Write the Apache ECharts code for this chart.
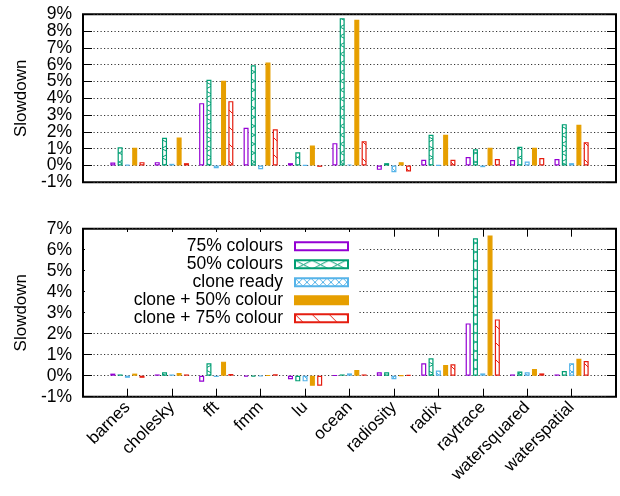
<!DOCTYPE html>
<html><head><meta charset="utf-8">
<script src="https://cdn.jsdelivr.net/npm/echarts@6/dist/echarts.min.js"></script>
<style>html,body{margin:0;padding:0;background:#fff}#c{width:620px;height:496px}</style>
</head><body><div id="c"></div>
<script>
const categories = ['barnes','cholesky','fft','fmm','lu','ocean','radiosity','radix','raytrace','watersquared','waterspatial'];
const seriesNames = ['75% colours','50% colours','clone ready','clone + 50% colour','clone + 75% colour'];

// top panel
const top75      = [0.18, 0.20, 3.71, 2.24, 0.14, 1.33, -0.26, 0.34, 0.50, 0.32, 0.38];
const top50      = [1.09, 1.65, 5.10, 5.97, 0.79, 8.77, 0.14, 1.83, 0.97, 1.11, 2.46];
const topClone   = [0.04, 0.10, -0.16, -0.22, 0.02, 0.06, -0.40, 0.02, -0.10, 0.24, 0.14];
const topClone50 = [1.05, 1.67, 5.04, 6.13, 1.19, 8.67, 0.20, 1.83, 1.05, 1.05, 2.42];
const topClone75 = [0.20, 0.14, 3.83, 2.16, -0.08, 1.45, -0.36, 0.34, 0.38, 0.44, 1.39];

// bottom panel
const bot75      = [0.10, 0.06, -0.29, -0.04, -0.17, 0.02, 0.16, 0.59, 2.49, 0.06, 0.06];
const bot50      = [0.06, 0.16, 0.59, -0.04, -0.27, 0.06, 0.16, 0.83, 6.54, 0.20, 0.22];
const botClone   = [-0.10, 0.06, -0.06, -0.03, -0.27, 0.11, -0.17, 0.25, 0.11, 0.16, 0.59];
const botClone50 = [0.10, 0.13, 0.67, 0.02, -0.48, 0.27, 0.01, 0.51, 6.68, 0.32, 0.81];
const botClone75 = [-0.10, 0.06, 0.08, 0.07, -0.48, 0.06, 0.03, 0.54, 2.68, 0.11, 0.70];

const topRange = [-1, 9];
const botRange = [-1, 7];

const colors = ['#9400d3', '#009e73', '#56b4e9', '#e69f00', '#e51e10'];
const FONT = 'Liberation Sans';
const FS = 17;

function makePattern(w, h, color, draw) {
  const c = document.createElement('canvas');
  c.width = w; c.height = h;
  const ctx = c.getContext('2d');
  ctx.fillStyle = '#fff'; ctx.fillRect(0, 0, w, h);
  ctx.strokeStyle = color; ctx.lineWidth = 1;
  ctx.beginPath(); draw(ctx, w, h); ctx.stroke();
  return { image: c, repeat: 'repeat' };
}
const fills = [
  '#fff',
  makePattern(17, 9, colors[1], (ctx, w, h) => { ctx.moveTo(0, 0); ctx.lineTo(w, h); ctx.moveTo(w, 0); ctx.lineTo(0, h); }),
  makePattern(8, 8, colors[2], (ctx, w, h) => { ctx.moveTo(0, 0); ctx.lineTo(w, h); ctx.moveTo(w, 0); ctx.lineTo(0, h); }),
  colors[3],
  makePattern(17, 17, colors[4], (ctx, w, h) => { ctx.moveTo(-2, -2); ctx.lineTo(w + 2, h + 2); ctx.moveTo(-2, h - 2); ctx.lineTo(2, h + 2); ctx.moveTo(w - 2, -2); ctx.lineTo(w + 2, 2); })
];

const xCats = [''].concat(categories).concat(['']);
function pad(arr) { return [null].concat(arr).concat([null]); }

const topData = [top75, top50, topClone, topClone50, topClone75];
const botData = [bot75, bot50, botClone, botClone50, botClone75];

const series = [];
[topData, botData].forEach((set, p) => {
  set.forEach((vals, i) => {
    series.push({
      type: 'bar', name: seriesNames[i],
      xAxisIndex: p === 0 ? 0 : 1, yAxisIndex: p === 0 ? 0 : 3,
      data: pad(vals),
      barWidth: 5, barGap: '46%',
      itemStyle: { color: fills[i], borderColor: colors[i], borderWidth: 1.2 },
      emphasis: { disabled: true }
    });
  });
});

// kind: 'main' (ticks, grid, labels filtered by parity), 'labels' (labels only), 'right' (ticks only)
function yAxis(grid, range, kind, parity) {
  const fmt = v => (parity === undefined || Math.abs(v % 2) === parity) ? v + '%' : '';
  return {
    type: 'value', gridIndex: grid, min: range[0], max: range[1], interval: 1,
    position: kind === 'right' ? 'right' : 'left',
    axisLine: { show: false, onZero: false },
    axisTick: { show: kind !== 'labels', inside: true, length: 9, lineStyle: { color: '#000', width: 1 } },
    axisLabel: { show: kind !== 'right', formatter: fmt, margin: 11, color: '#000', fontFamily: FONT, fontSize: 17.5,
                 showMinLabel: true, showMaxLabel: true },
    splitLine: { show: kind === 'main', lineStyle: { color: '#333', width: 1, type: [1.2, 2.3] } },
    name: kind === 'main' ? 'Slowdown' : '', nameLocation: 'middle', nameGap: 50,
    nameTextStyle: { color: '#000', fontFamily: FONT, fontSize: FS }
  };
}

const option = {
  animation: false,
  backgroundColor: '#fff',
  grid: [
    { left: 83, top: 14.3, width: 533, height: 168, show: true, borderColor: '#000', borderWidth: 2, backgroundColor: 'transparent' },
    { left: 83, top: 228.7, width: 533, height: 168, show: true, borderColor: '#000', borderWidth: 2, backgroundColor: 'transparent' }
  ],
  xAxis: [
    { type: 'category', gridIndex: 0, data: xCats, boundaryGap: false,
      axisLine: { show: false, onZero: false }, axisTick: { show: false }, axisLabel: { show: false }, splitLine: { show: false } },
    { type: 'category', gridIndex: 1, data: xCats, boundaryGap: false, position: 'bottom',
      axisLine: { show: false, onZero: false },
      axisTick: { show: true, inside: true, length: 8, interval: 0, lineStyle: { color: '#000', width: 1 } },
      axisLabel: { show: true, interval: 0, rotate: 45, color: '#000', fontFamily: FONT, fontSize: FS, margin: 8 },
      splitLine: { show: false } },
    { type: 'category', gridIndex: 1, data: xCats, boundaryGap: false, position: 'top',
      axisLine: { show: false, onZero: false },
      axisTick: { show: true, inside: true, length: 8, interval: 0, lineStyle: { color: '#000', width: 1 } },
      axisLabel: { show: false }, splitLine: { show: false } }
  ],
  yAxis: [
    yAxis(0, topRange, 'main', 1),
    yAxis(0, topRange, 'right'),
    yAxis(0, topRange, 'labels', 0),
    yAxis(1, botRange, 'main'),
    yAxis(1, botRange, 'right')
  ],
  graphic: [
    { type: 'rect', z: 1, shape: { x: 85, y: 232, width: 274, height: 94 }, style: { fill: '#fff' }, silent: true }
  ],
  legend: {
    data: seriesNames,
    orient: 'vertical', align: 'right',
    right: 271, top: 237.2, padding: 0,
    itemWidth: 53, itemHeight: 8, itemGap: 0,
    icon: 'rect',
    selectedMode: false,
    textStyle: { color: '#000', fontFamily: FONT, fontSize: 17.5, lineHeight: 17.6, padding: [0, 7, 0, 0] }
  },
  series: series
};
const chart = echarts.init(document.getElementById('c'), null, { renderer: 'canvas' });
chart.setOption(option);
</script></body></html>
